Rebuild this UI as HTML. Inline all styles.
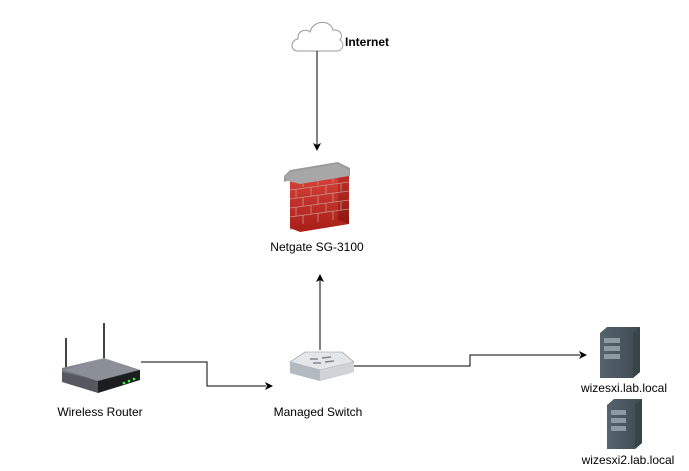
<!DOCTYPE html>
<html><head><meta charset="utf-8"><style>
html,body{margin:0;padding:0;background:#fff;}
svg{display:block;font-family:"Liberation Sans",Arial,sans-serif;}
</style></head><body>
<svg width="689" height="471" viewBox="0 0 689 471" xmlns="http://www.w3.org/2000/svg">
<defs>
<linearGradient id="brick" x1="0" y1="0" x2="0" y2="1"><stop offset="0" stop-color="#d9443a"/><stop offset="1" stop-color="#a91e18"/></linearGradient>
<linearGradient id="brickSide" x1="0" y1="0" x2="0" y2="1"><stop offset="0" stop-color="#c2322a"/><stop offset="1" stop-color="#8e1611"/></linearGradient>
<linearGradient id="rt" x1="0" y1="0" x2="0" y2="1"><stop offset="0" stop-color="#9aa0a8"/><stop offset="1" stop-color="#3a3d42"/></linearGradient>
<linearGradient id="sv" x1="0" y1="0" x2="1" y2="0"><stop offset="0" stop-color="#56636c"/><stop offset="1" stop-color="#3f4a52"/></linearGradient>
</defs>
<!-- cloud -->
<path d="M298,51 C290,51 290,40 298,39 C297,31 306,28 310,32 C313,20 330,19 333,30 C340,29 344,36 340,40 C345,43 343,51 337,51 Z" fill="#fff" stroke="#999" stroke-width="1"/>
<text x="345" y="46" font-size="12" font-weight="bold" fill="#000">Internet</text>
<!-- cloud -> firewall -->
<line x1="317" y1="51" x2="317" y2="145" stroke="#000" stroke-width="1"/>
<path d="M313,143 L317,151 L321,143 L317,145 Z" fill="#000"/>
<!-- firewall -->
<path d="M290,174 L338,166 L338,222 L290,230 Z" fill="#bbb"/>
<path d="M290,180 L338,172 L349,176 L349,224 L300,232 L290,228 Z" fill="url(#brick)"/>
<path d="M338,172 L349,176 L349,224 L338,220 Z" fill="url(#brickSide)"/>
<g stroke="#c9938c" stroke-width="0.8" fill="none">
<path d="M290,190 L349,182 M290,199 L349,191 M290,208 L349,200 M290,217 L349,209"/>
<path d="M303,178 L303,187 M318,176 L318,185 M333,174 L333,183 M296,189 L296,198 M311,187 L311,196 M326,185 L326,194 M341,183 L341,192 M303,197 L303,206 M318,195 L318,204 M333,193 L333,202 M296,207 L296,216 M311,205 L311,214 M326,203 L326,212 M341,201 L341,210 M303,215 L303,224 M318,213 L318,222 M333,211 L333,220"/>
</g>
<path d="M284,176 L290,170 L338,162 L350,168 L350,176 L338,172 L290,180 L284,182 Z" fill="#9a9a9a"/>
<path d="M284,176 L290,172 L338,164 L349,170 L349,176 L300,184 L288,181 Z" fill="#a7a7a7"/>
<text x="317" y="251" font-size="12" text-anchor="middle" fill="#000">Netgate SG-3100</text>
<!-- switch -> firewall -->
<line x1="320" y1="350" x2="320" y2="280" stroke="#000" stroke-width="1"/>
<path d="M316,282 L320,274 L324,282 L320,280 Z" fill="#000"/>
<!-- switch -->
<path d="M290,362 L305,352 L342,352 L354,362 L354,372 L320,381 L290,373 Z" fill="#8c939c"/>
<path d="M290,362 L305,352 L342,352 L354,362 L320,370 Z" fill="#e4e7ea" stroke="#8a9098" stroke-width="0.6"/>
<path d="M320,370 L354,362 L354,372 L320,381 Z" fill="#d0d4d8"/>
<path d="M290,362 L320,370 L320,381 L290,373 Z" fill="#b4bac1"/>
<g stroke="#7c838c" stroke-width="1.4"><line x1="310" y1="359" x2="318" y2="359"/><line x1="322" y1="358" x2="331" y2="357"/><line x1="313" y1="363" x2="321" y2="363"/><line x1="325" y1="362" x2="334" y2="361"/></g>
<text x="318" y="416" font-size="12" text-anchor="middle" fill="#000">Managed Switch</text>
<!-- router -->
<line x1="66" y1="338" x2="66" y2="372" stroke="#444" stroke-width="2"/>
<line x1="104" y1="323" x2="104" y2="360" stroke="#444" stroke-width="2"/>
<path d="M62,368 L104,358 L140,370 L140,378 L98,392 L62,380 Z" fill="url(#rt)"/>
<path d="M64,370 L104,359 L138,370 L98,381 Z" fill="#8b9098"/>
<path d="M98,381 L140,370 L140,380 L98,393 Z" fill="#1c1d20"/>
<path d="M62,372 L98,381 L98,393 L62,382 Z" fill="#55595f"/>
<circle cx="124" cy="383" r="1.3" fill="#3f3"/><circle cx="129" cy="381" r="1.3" fill="#3f3"/><circle cx="134" cy="379" r="1.3" fill="#3f3"/>
<text x="100" y="416" font-size="12" text-anchor="middle" fill="#000">Wireless Router</text>
<!-- router -> switch -->
<polyline points="141,362 207,362 207,386 266,386" fill="none" stroke="#000" stroke-width="1"/>
<path d="M265,382 L273,386 L265,390 L267,386 Z" fill="#000"/>
<!-- switch -> server -->
<polyline points="354,366 470,366 470,355 580,355" fill="none" stroke="#000" stroke-width="1"/>
<path d="M579,351 L587,355 L579,359 L581,355 Z" fill="#000"/>
<!-- server 1 -->
<path d="M600,333 L607,327 L640,327 L640,372 L633,378 L600,378 Z" fill="url(#sv)"/>
<path d="M633,333 L640,327 L640,372 L633,378 Z" fill="#39434a"/>
<g fill="#8e9aa2"><rect x="604" y="338" width="16" height="5"/><rect x="604" y="346" width="16" height="5"/><rect x="604" y="354" width="16" height="5"/></g>
<text x="624" y="392" font-size="12" text-anchor="middle" fill="#000">wizesxi.lab.local</text>
<!-- server 2 -->
<path d="M607,405 L614,399 L642,399 L642,443 L635,449 L607,449 Z" fill="url(#sv)"/>
<path d="M635,405 L642,399 L642,443 L635,449 Z" fill="#39434a"/>
<g fill="#8e9aa2"><rect x="611" y="410" width="15" height="5"/><rect x="611" y="418" width="15" height="5"/><rect x="611" y="426" width="15" height="5"/></g>
<text x="628" y="464" font-size="12" text-anchor="middle" fill="#000">wizesxi2.lab.local</text>
</svg>
</body></html>
